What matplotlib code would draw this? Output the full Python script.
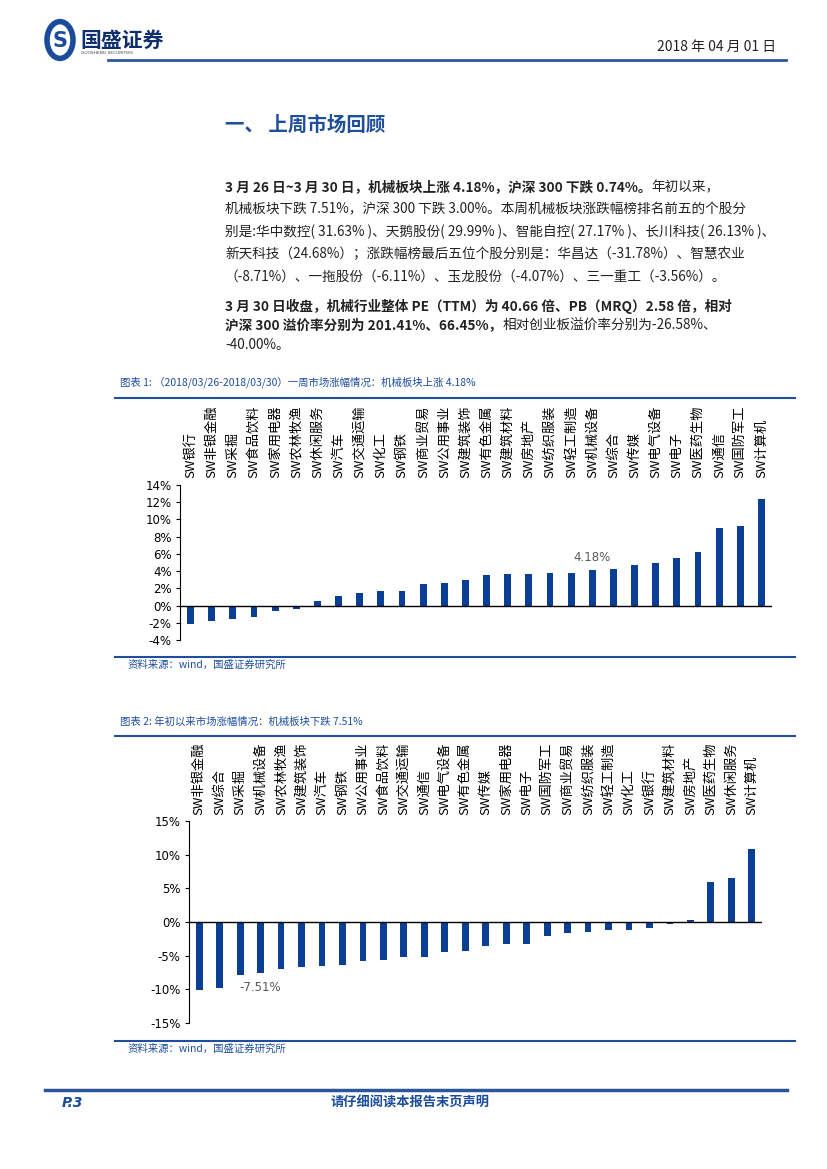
import matplotlib
matplotlib.use('Agg')
import matplotlib.pyplot as plt
from matplotlib.lines import Line2D
from matplotlib.patches import Circle

W, H = 827, 1169
CJK = ['Noto Sans CJK SC', 'DejaVu Sans']
BLUE = '#1F4E9C'
BAR = '#0B3F94'

# chart 1: weekly change by sector (%)
cats_week = ['SW银行', 'SW非银金融', 'SW采掘', 'SW食品饮料', 'SW家用电器', 'SW农林牧渔',
             'SW休闲服务', 'SW汽车', 'SW交通运输', 'SW化工', 'SW钢铁', 'SW商业贸易',
             'SW公用事业', 'SW建筑装饰', 'SW有色金属', 'SW建筑材料', 'SW房地产', 'SW纺织服装',
             'SW轻工制造', 'SW机械设备', 'SW综合', 'SW传媒', 'SW电气设备', 'SW电子',
             'SW医药生物', 'SW通信', 'SW国防军工', 'SW计算机']
vals_week = [-2.12, -1.85, -1.55, -1.30, -0.58, -0.35, 0.54, 1.12, 1.50, 1.66, 1.74, 2.50,
             2.66, 2.93, 3.51, 3.63, 3.67, 3.82, 3.82, 4.18, 4.21, 4.67, 4.90, 5.56,
             6.25, 9.03, 9.23, 12.36]
ticks_week = [-4, -2, 0, 2, 4, 6, 8, 10, 12, 14]

# chart 2: year-to-date change by sector (%)
cats_ytd = ['SW非银金融', 'SW综合', 'SW采掘', 'SW机械设备', 'SW农林牧渔', 'SW建筑装饰',
            'SW汽车', 'SW钢铁', 'SW公用事业', 'SW食品饮料', 'SW交通运输', 'SW通信',
            'SW电气设备', 'SW有色金属', 'SW传媒', 'SW家用电器', 'SW电子', 'SW国防军工',
            'SW商业贸易', 'SW纺织服装', 'SW轻工制造', 'SW化工', 'SW银行', 'SW建筑材料',
            'SW房地产', 'SW医药生物', 'SW休闲服务', 'SW计算机']
vals_ytd = [-10.06, -9.77, -7.89, -7.51, -6.96, -6.66, -6.56, -6.46, -5.72, -5.62, -5.23,
            -5.18, -4.49, -4.29, -3.55, -3.31, -3.31, -2.12, -1.63, -1.43, -1.23, -1.13,
            -0.89, -0.35, 0.30, 5.87, 6.51, 10.90]
ticks_ytd = [-15, -10, -5, 0, 5, 10, 15]

para1 = [
    [('3 月 26 日~3 月 30 日，机械板块上涨 4.18%，沪深 300 下跌 0.74%。', 'bold'), ('年初以来，', 'normal')],
    [('机械板块下跌 7.51%，沪深 300 下跌 3.00%。本周机械板块涨跌幅榜排名前五的个股分', 'normal')],
    [('别是:华中数控( 31.63% )、天鹅股份( 29.99% )、智能自控( 27.17% )、长川科技( 26.13% )、', 'normal')],
    [('新天科技（24.68%）；涨跌幅榜最后五位个股分别是：华昌达（-31.78%）、智慧农业', 'normal')],
    [('（-8.71%）、一拖股份（-6.11%）、玉龙股份（-4.07%）、三一重工（-3.56%）。', 'normal')],
]
para2 = [
    [('3 月 30 日收盘，机械行业整体 PE（TTM）为 40.66 倍、PB（MRQ）2.58 倍，相对', 'bold')],
    [('沪深 300 溢价率分别为 201.41%、66.45%，', 'bold'), ('相对创业板溢价率分别为-26.58%、', 'normal')],
    [('-40.00%。', 'normal')],
]


def fx(x):
    return x / W


def fy(y):
    return 1 - y / H


def hline(fig, x0, x1, y, lw, color=BLUE):
    fig.add_artist(Line2D([fx(x0), fx(x1)], [fy(y), fy(y)], transform=fig.transFigure,
                          lw=lw, color=color))


def text_line(fig, renderer, x, y, segments, size, max_w):
    # draw mixed bold / normal pieces one after another, squeezed to fit the column
    arts = []
    total = 0
    for s, w in segments:
        t = fig.text(fx(x), fy(y), s, fontsize=size, fontweight=w, family=CJK,
                     va='center', ha='left', color='#222222')
        total += t.get_window_extent(renderer).width
        arts.append(t)
    scale = min(1.0, max_w / total)
    if scale < 1.0:
        for t in arts:
            t.set_fontsize(size * scale)
    cur = x
    for t in arts:
        t.set_x(fx(cur))
        cur += t.get_window_extent(renderer).width


def bar_chart(fig, rect, cats, vals, ticks, pad):
    x0, y0, x1, y1 = rect
    ax = fig.add_axes([fx(x0), fy(y1), (x1 - x0) / W, (y1 - y0) / H])
    xs = list(range(len(cats)))
    ax.bar(xs, vals, width=0.33, color=BAR, zorder=2)
    ax.axhline(0, color='black', lw=1.0, zorder=3)
    ax.set_xlim(-0.5, len(cats) - 0.5)
    ax.set_ylim(ticks[0], ticks[-1])
    ax.set_yticks(ticks)
    ax.set_yticklabels(['%d%%' % t for t in ticks], fontsize=8.5, family='DejaVu Sans')
    ax.set_xticks(xs)
    ax.set_xticklabels(cats, rotation=90, fontsize=9.5, family=CJK)
    ax.xaxis.set_ticks_position('top')
    ax.tick_params(axis='x', length=0, pad=pad)
    ax.tick_params(axis='y', length=3, width=0.8, direction='out', pad=3)
    for side in ['top', 'right', 'bottom']:
        ax.spines[side].set_visible(False)
    ax.spines['left'].set_linewidth(0.8)
    ax.set_facecolor('none')
    return ax


fig = plt.figure(figsize=(W / 100, H / 100), dpi=100)
renderer = fig.canvas.get_renderer()

# header
fig.add_artist(Circle((fx(60), fy(40)), 13 / W, transform=fig.transFigure,
                      facecolor='none', edgecolor='#1A4C9B', lw=4))
fig.text(fx(60), fy(41), 'S', fontsize=15, fontweight='bold', color='#1A4C9B',
         ha='center', va='center', family='DejaVu Sans')
fig.text(fx(80), fy(40), '国盛证券', fontsize=15, fontweight='bold', color='#0E2F6E',
         ha='left', va='center', family=CJK)
fig.text(fx(81), fy(53), 'GUOSHENG SECURITIES', fontsize=3.2, color='#444444',
         ha='left', va='center', family='DejaVu Sans')
fig.text(fx(776), fy(47), '2018 年 04 月 01 日', fontsize=10, color='#222222',
         ha='right', va='center', family=CJK)
hline(fig, 108, 786, 60, 2.0, '#2B579A')

# section title
fig.text(fx(225), fy(125), '一、 上周市场回顾', fontsize=14, fontweight='bold', color=BLUE,
         ha='left', va='center', family=CJK)

# body text
for i, segs in enumerate(para1):
    text_line(fig, renderer, 225, 187 + i * 22.3, segs, 9.8, 566)
for i, segs in enumerate(para2):
    text_line(fig, renderer, 225, 306 + i * 19.5, segs, 9.8, 566)

# chart 1
fig.text(fx(120), fy(382), '图表 1: （2018/03/26-2018/03/30）一周市场涨幅情况：机械板块上涨 4.18%',
         fontsize=7.5, color=BLUE, ha='left', va='center', family=CJK, style='italic')
hline(fig, 115, 795, 398, 1.5)
ax1 = bar_chart(fig, (180, 485, 772, 640), cats_week, vals_week, ticks_week, 5)
i1 = cats_week.index('SW机械设备')
ax1.annotate('%.2f%%' % vals_week[i1], (i1, vals_week[i1]), xytext=(0, 9),
             textcoords='offset points', ha='center', va='center', fontsize=8.5,
             color='#595959', family='DejaVu Sans')
hline(fig, 115, 795, 657, 1.5)
fig.text(fx(128), fy(665), '资料来源：wind，国盛证券研究所', fontsize=7.5, color=BLUE,
         ha='left', va='center', family=CJK, style='italic')

# chart 2
fig.text(fx(120), fy(722), '图表 2: 年初以来市场涨幅情况：机械板块下跌 7.51%',
         fontsize=7.5, color=BLUE, ha='left', va='center', family=CJK, style='italic')
hline(fig, 115, 795, 736, 1.5)
ax2 = bar_chart(fig, (189, 821, 762, 1023), cats_ytd, vals_ytd, ticks_ytd, 4)
i2 = cats_ytd.index('SW机械设备')
ax2.annotate('%.2f%%' % vals_ytd[i2], (i2, vals_ytd[i2]), xytext=(0, -11),
             textcoords='offset points', ha='center', va='center', fontsize=8.5,
             color='#595959', family='DejaVu Sans')
hline(fig, 115, 795, 1041, 1.5)
fig.text(fx(128), fy(1049), '资料来源：wind，国盛证券研究所', fontsize=7.5, color=BLUE,
         ha='left', va='center', family=CJK, style='italic')

# footer
hline(fig, 45, 787, 1090, 2.5, '#2B579A')
fig.text(fx(62), fy(1103), 'P.3', fontsize=10, fontweight='bold', style='italic',
         color='#1A4C9B', ha='left', va='center', family='DejaVu Sans')
fig.text(fx(410), fy(1103), '请仔细阅读本报告末页声明', fontsize=9.5, fontweight='bold',
         color='#1A4C9B', ha='center', va='center', family=CJK)

fig.savefig('out.png', dpi=100)
